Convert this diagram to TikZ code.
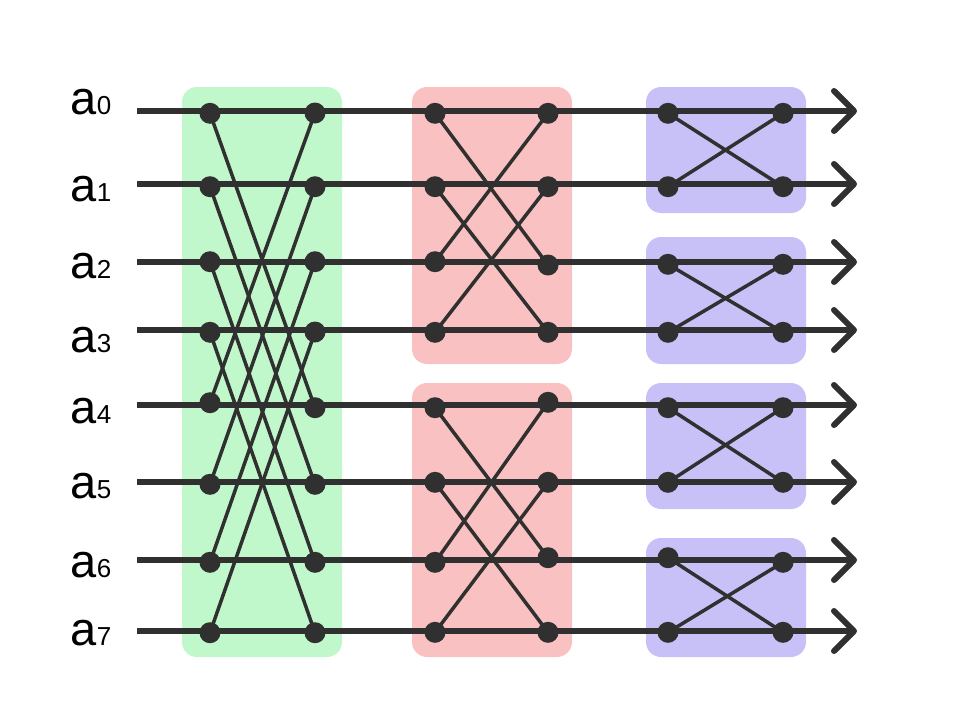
\documentclass[tikz,border=0pt]{standalone}
\usepackage{fontspec}
\setmainfont{Liberation Sans}
\usetikzlibrary{arrows.meta}
\definecolor{ink}{HTML}{303030}
\definecolor{gbox}{HTML}{C1F8CB}
\definecolor{rbox}{HTML}{F9C1C1}
\definecolor{pbox}{HTML}{C8C1F8}
\pgfdeclarelayer{bg}
\pgfdeclarelayer{lines}
\pgfsetlayers{bg,lines,main}
\tikzset{
  stagebox/.style={rounded corners=15pt},
  dot/.style={circle,fill=ink,inner sep=0pt,minimum size=21pt},
  wire/.style={draw=ink,line width=6pt,line cap=butt,-{Straight Barb[length=20pt,width=40pt,round]}},
  cross/.style={draw=ink,line width=3.5pt},
  lab/.style={anchor=base west,inner sep=0pt,text=black}
}
\newcommand{\alab}[1]{{\fontsize{47}{47}\selectfont a}{\fontsize{26}{26}\selectfont #1}}
\begin{document}
\begin{tikzpicture}[x=1pt,y=-1pt]
\useasboundingbox (0,0) rectangle (961,728);
% boxes
\begin{pgfonlayer}{bg}
\fill[gbox,stagebox] (182,87) rectangle (342,657);
\fill[rbox,stagebox] (412,87) rectangle (572,364);
\fill[rbox,stagebox] (412,383) rectangle (572,657);
\fill[pbox,stagebox] (646,87) rectangle (806,213);
\fill[pbox,stagebox] (646,237) rectangle (806,364);
\fill[pbox,stagebox] (646,383) rectangle (806,509);
\fill[pbox,stagebox] (646,538) rectangle (806,657);
\end{pgfonlayer}
% labels and wire ends
\foreach \i/\y/\b in {0/111/114,1/184/201.5,2/262/278.5,3/330/352,4/405/423.5,5/482/498.5,6/560/577.5,7/631/645.8}{
  \node[lab] (lab\i) at (70.5,\b) {\alab{\i}};
  \coordinate (in\i) at (137,\y);
  \coordinate (out\i) at (857,\y);
}
% dots
\foreach \i/\y in {0/113.3,1/186.7,2/261.7,3/332.3,4/402.7,5/484.3,6/562.3,7/632.7}
  \node[dot] (gL\i) at (210,\y) {};
\foreach \i/\y in {0/113,1/186.7,2/261.7,3/332,4/407.7,5/484.3,6/562.3,7/632.7}
  \node[dot] (gR\i) at (315,\y) {};
\foreach \i/\y in {0/113.3,1/186.7,2/261.7,3/332.3,4/407.7,5/482.3,6/562.3,7/632.3}
  \node[dot] (rL\i) at (435,\y) {};
\foreach \i/\y in {0/113.3,1/186.7,2/265,3/332.3,4/402.3,5/482.3,6/557.7,7/632.3}
  \node[dot] (rR\i) at (548,\y) {};
\foreach \i/\y in {0/113.3,1/186.7,2/264.3,3/332.3,4/407.7,5/482.3,6/557.7,7/632.3}
  \node[dot] (pL\i) at (668,\y) {};
\foreach \i/\y in {0/113.3,1/186.7,2/264.3,3/332.3,4/407.7,5/482.3,6/562.3,7/632.3}
  \node[dot] (pR\i) at (783,\y) {};
\begin{pgfonlayer}{lines}
\foreach \i in {0,...,7}
  \draw[wire] (in\i) -- (out\i);
% stage 1: span 4
\foreach \a/\b in {0/4,1/5,2/6,3/7}{
  \draw[cross] (gL\a.center) -- (gR\b.center);
  \draw[cross] (gL\b.center) -- (gR\a.center);
}
% stage 2: span 2
\foreach \a/\b in {0/2,1/3,4/6,5/7}{
  \draw[cross] (rL\a.center) -- (rR\b.center);
  \draw[cross] (rL\b.center) -- (rR\a.center);
}
% stage 3: span 1
\foreach \a/\b in {0/1,2/3,4/5,6/7}{
  \draw[cross] (pL\a.center) -- (pR\b.center);
  \draw[cross] (pL\b.center) -- (pR\a.center);
}
\end{pgfonlayer}
\end{tikzpicture}
\end{document}
